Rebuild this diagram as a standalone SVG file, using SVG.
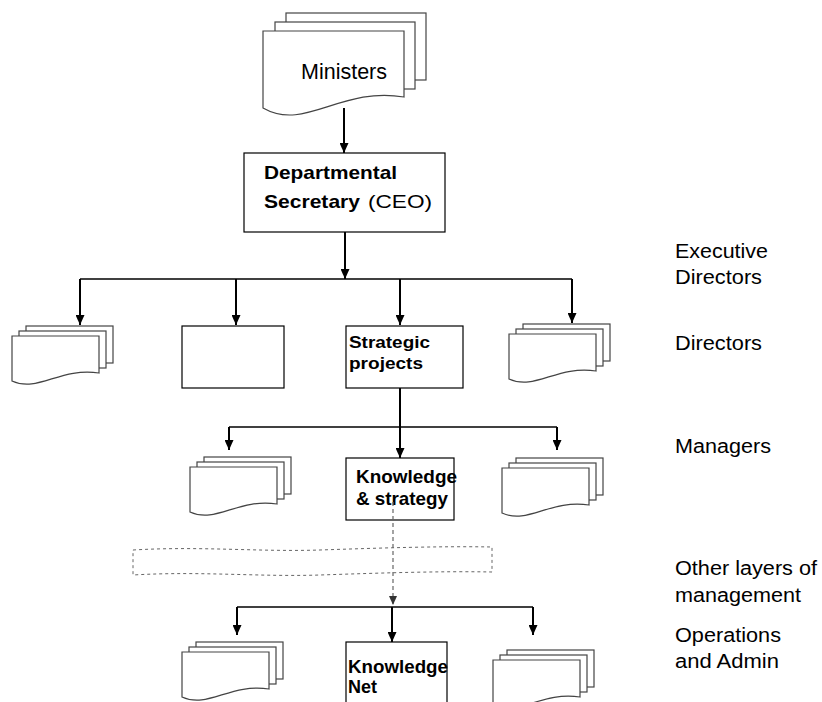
<svg xmlns="http://www.w3.org/2000/svg" xmlns:xlink="http://www.w3.org/1999/xlink" width="822" height="702" viewBox="0 0 822 702">
<defs>
<style>
.pg{fill:#fff;stroke:#444;stroke-width:1.2}
.box{fill:#fff;stroke:#000;stroke-width:1.2}
.b{font-family:"Liberation Sans",Arial,sans-serif;font-weight:bold;fill:#000}
.r{font-family:"Liberation Sans",Arial,sans-serif;fill:#000}
.lbl{font-family:"Liberation Sans",Arial,sans-serif;font-size:20px;fill:#000}
.v{stroke:#000;stroke-width:2;fill:none}
.h{stroke:#000;stroke-width:1.5;fill:none}
.d{stroke:#666;stroke-width:1.2;stroke-dasharray:4 3;fill:none}
.band{fill:none;stroke:#666;stroke-width:1;stroke-dasharray:3 3}
</style>
<marker id="ah" markerUnits="userSpaceOnUse" markerWidth="10" markerHeight="9" refX="10" refY="4.5" orient="auto">
<path d="M0,0 L10,4.5 L0,9 z" fill="#000"/>
</marker>
<marker id="ahd" markerUnits="userSpaceOnUse" markerWidth="9" markerHeight="8" refX="9" refY="4" orient="auto">
<path d="M0,0 L9,4 L0,8 z" fill="#333"/>
</marker>
<g id="docs">
<rect class="pg" x="14" y="0" width="87" height="37"/>
<rect class="pg" x="7" y="5" width="87" height="37"/>
<path class="pg" d="M0,55 L0,10 L87,10 L87,47 C48,41 26,67 0,55 z"/>
</g>
</defs>

<g id="ministers">
<rect class="pg" x="286" y="13" width="140" height="67"/>
<rect class="pg" x="275" y="22" width="140" height="67"/>
<path class="pg" d="M263,108 L263,31 L404,31 L404,97 C341,86 305,132 263,108 z"/>
<text class="r" x="301" y="79" font-size="22" textLength="86" lengthAdjust="spacingAndGlyphs">Ministers</text>
</g>

<g id="dept">
<rect class="box" x="244" y="153" width="201" height="79"/>
<text class="b" x="264" y="179" font-size="19" textLength="133" lengthAdjust="spacingAndGlyphs">Departmental</text>
<text class="b" x="264" y="208" font-size="19" textLength="96" lengthAdjust="spacingAndGlyphs">Secretary</text>
<text class="r" x="368" y="208" font-size="19" textLength="64" lengthAdjust="spacingAndGlyphs">(CEO)</text>
</g>

<g id="dir1"><use xlink:href="#docs" href="#docs" transform="translate(12,326)"/></g>
<g id="dir2"><rect class="box" x="182" y="326" width="102" height="62"/></g>
<g id="strategic">
<rect class="box" x="346" y="326" width="117" height="62"/>
<text class="b" x="349" y="348" font-size="17" textLength="81" lengthAdjust="spacingAndGlyphs">Strategic</text>
<text class="b" x="349" y="369" font-size="17" textLength="74" lengthAdjust="spacingAndGlyphs">projects</text>
</g>
<g id="dir4"><use xlink:href="#docs" href="#docs" transform="translate(509,324)"/></g>

<g id="mgr1"><use xlink:href="#docs" href="#docs" transform="translate(190,457)"/></g>
<g id="knowstrat">
<rect class="box" x="346" y="458" width="108" height="62"/>
<text class="b" x="356" y="483" font-size="19" textLength="101" lengthAdjust="spacingAndGlyphs">Knowledge</text>
<text class="b" x="356" y="505" font-size="19" textLength="92" lengthAdjust="spacingAndGlyphs">&amp; strategy</text>
</g>
<g id="mgr3"><use xlink:href="#docs" href="#docs" transform="translate(502,458)"/></g>

<g id="otherlayers">
<path class="band" d="M133,550 C200,546 260,552 320,550 C380,548 440,546 492,547 L492,572 C440,571 380,573 320,575 C260,577 200,571 133,575 z"/>
</g>

<g id="ops1"><use xlink:href="#docs" href="#docs" transform="translate(182,642)"/></g>
<g id="knownet">
<rect class="box" x="346" y="642" width="101" height="70"/>
<text class="b" x="348" y="673" font-size="19" textLength="100" lengthAdjust="spacingAndGlyphs">Knowledge</text>
<text class="b" x="348" y="693" font-size="19" textLength="29" lengthAdjust="spacingAndGlyphs">Net</text>
</g>
<g id="ops3"><use xlink:href="#docs" href="#docs" transform="translate(493,650)"/></g>

<g id="labels">
<text class="lbl" x="675" y="258" textLength="93" lengthAdjust="spacingAndGlyphs">Executive</text>
<text class="lbl" x="675" y="284" textLength="87" lengthAdjust="spacingAndGlyphs">Directors</text>
<text class="lbl" x="675" y="350" textLength="87" lengthAdjust="spacingAndGlyphs">Directors</text>
<text class="lbl" x="675" y="453" textLength="96" lengthAdjust="spacingAndGlyphs">Managers</text>
<text class="lbl" x="675" y="575" textLength="142" lengthAdjust="spacingAndGlyphs">Other layers of</text>
<text class="lbl" x="675" y="602" textLength="126" lengthAdjust="spacingAndGlyphs">management</text>
<text class="lbl" x="675" y="642" textLength="106" lengthAdjust="spacingAndGlyphs">Operations</text>
<text class="lbl" x="675" y="668" textLength="104" lengthAdjust="spacingAndGlyphs">and Admin</text>
</g>

<g id="connectors">
<line class="v" x1="344" y1="108" x2="344" y2="153" marker-end="url(#ah)"/>
<line class="v" x1="345" y1="232" x2="345" y2="279" marker-end="url(#ah)"/>
<line class="h" x1="80" y1="279" x2="572" y2="279"/>
<line class="v" x1="80" y1="279" x2="80" y2="325" marker-end="url(#ah)"/>
<line class="v" x1="236" y1="279" x2="236" y2="325" marker-end="url(#ah)"/>
<line class="v" x1="400" y1="279" x2="400" y2="325" marker-end="url(#ah)"/>
<line class="v" x1="572" y1="279" x2="572" y2="323" marker-end="url(#ah)"/>
<line class="v" x1="400" y1="388" x2="400" y2="458" marker-end="url(#ah)"/>
<line class="h" x1="229" y1="427" x2="557" y2="427"/>
<line class="v" x1="229" y1="427" x2="229" y2="450" marker-end="url(#ah)"/>
<line class="v" x1="557" y1="427" x2="557" y2="450" marker-end="url(#ah)"/>
<line class="d" x1="393" y1="502" x2="393" y2="605" marker-end="url(#ahd)"/>
<line class="h" x1="237" y1="607" x2="533" y2="607"/>
<line class="v" x1="237" y1="607" x2="237" y2="635" marker-end="url(#ah)"/>
<line class="v" x1="533" y1="607" x2="533" y2="635" marker-end="url(#ah)"/>
<line class="v" x1="392" y1="607" x2="392" y2="642" marker-end="url(#ah)"/>
</g>
</svg>
